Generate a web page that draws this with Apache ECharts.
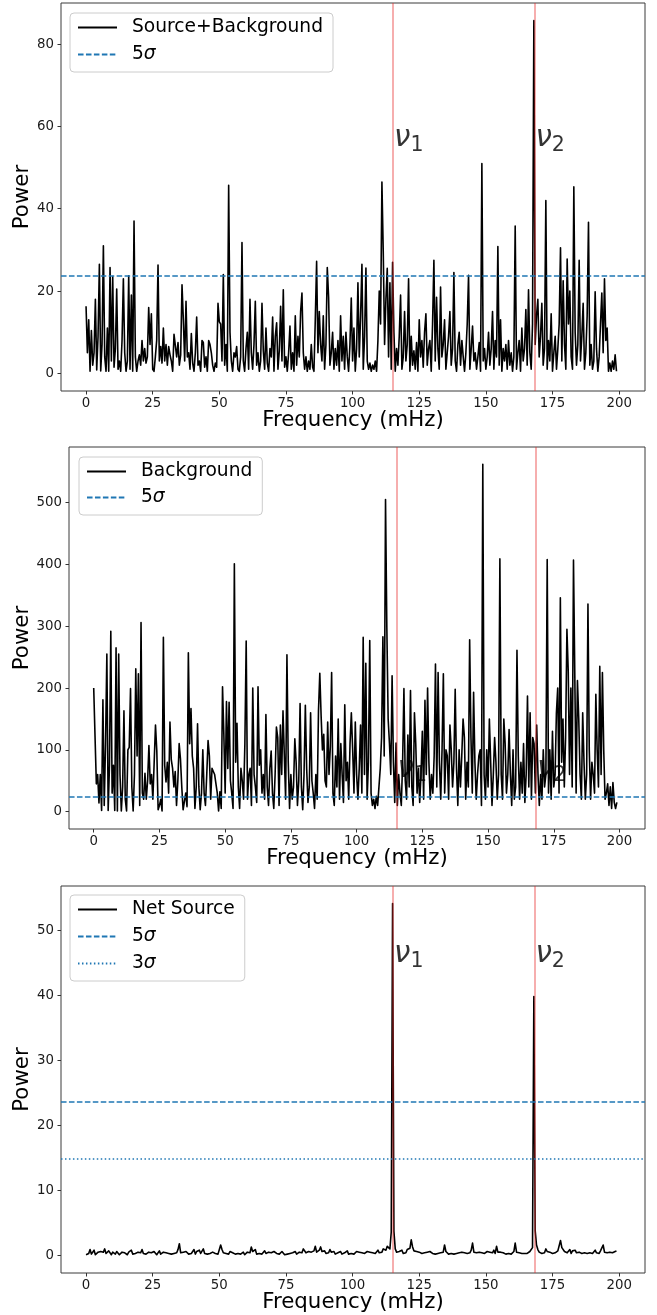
<!DOCTYPE html>
<html>
<head>
<meta charset="utf-8">
<script src="https://cdn.jsdelivr.net/npm/echarts@6/dist/echarts.min.js"></script>
<style>
  html, body { margin: 0; padding: 0; background: #fff; }
  #power-chart { width: 657px; height: 1315px; }
</style>
</head>
<body>
<div id="power-chart"></div>
<script>
// frequency grid of the periodograms (mHz per bin), 0 .. 199 mHz
const freqStep = 0.5;

// Source+Background power, one row = 5 mHz
const srcBkgPower = [
  16.3, 5, 13, 0.5, 10.4, 2, 5, 18, 0.8, 9,
  26.5, 0.6, 7, 31, 4, 0.5, 11, 0.5, 25.7, 3,
  23.5, 1.5, 6, 20.5, 1, 3, 0.5, 8, 23, 5,
  0.5, 3, 23.7, 1, 19, 0.5, 37, 4, 0.5, 3,
  4.5, 2, 8, 3, 6, 2.5, 4, 16, 7, 14.5,
  1, 0.5, 4, 8, 26.3, 3, 6.5, 2.5, 11, 3,
  7, 2, 6.5, 4.5, 3, 0.5, 9.5, 9.7, 4, 7.5,
  2, 4.5, 21.5, 13, 3, 17.5, 4, 5, 1, 9.7,
  2.5, 0.5, 5, 13.7, 2, 3, 0.5, 8, 7.5, 1.5,
  4, 0.5, 8, 7, 5, 2, 0.5, 2.5, 1.5, 17,
  12.5, 12, 3, 24, 2, 7, 0.5, 45.7, 10, 3,
  0.5, 5, 4, 6.5, 1, 0.5, 4, 31.8, 3, 0.5,
  6, 10, 1, 18, 5, 1, 7, 17.5, 2, 5,
  0.5, 3, 17, 5.5, 1, 11, 2.5, 0.5, 6, 4,
  13.7, 0.5, 9, 12.3, 1, 5.5, 16.3, 3, 20.3, 1.5,
  4, 0.5, 5, 11.5, 1, 5, 0.5, 14, 2, 9,
  4, 15, 19.5, 5, 1, 4, 0.5, 3, 1, 7,
  1.5, 0.5, 13, 27.2, 5, 15, 7, 3, 14, 1,
  7, 25.7, 18.5, 2, 5, 10, 1, 6, 2, 8,
  0.5, 14, 3, 9, 1, 10, 4, 0.5, 7, 18.3,
  3, 11, 0.5, 6, 22, 4, 14, 26.5, 1, 9,
  25.6, 3, 1, 2.5, 0.5, 2, 1, 3, 0.5, 8,
  20, 12, 46.5, 29.5, 7, 18, 25.5, 4, 22, 1,
  27, 10, 0.5, 6, 2, 9, 19, 1, 4, 15,
  3, 7, 23, 0.5, 9, 2, 5.5, 1, 7.5, 0.5,
  13, 4, 8, 1.5, 10, 14.5, 2, 6, 8, 0.5,
  12, 27.5, 3, 18.5, 6, 1, 21, 4, 7, 13,
  1, 5, 9, 15, 2, 6, 24.5, 3, 0.5, 7,
  10, 2, 8, 4, 0.5, 5, 12, 23.8, 1, 6,
  11.5, 3, 5, 1, 4, 7.5, 0.5, 51, 3, 6,
  1, 4, 10, 2, 6, 15, 1, 8, 4, 30.8,
  2, 13, 0.5, 6, 3, 7, 1, 8, 2, 5,
  0.5, 4, 35.8, 1, 5, 8, 0.5, 11, 3, 6,
  15.5, 2, 20.3, 5, 1, 12, 85.7, 7, 14, 18,
  4, 9, 17, 2, 6, 42, 1, 8, 3, 14.5,
  0.5, 5, 9, 1, 6, 12, 30.5, 3, 22.5, 7,
  1, 27.8, 12, 20, 4, 1, 45.3, 10, 2, 7,
  27.5, 3, 9, 17, 1, 5, 14, 36.7, 2, 7,
  1, 3, 19.8, 6, 0.5, 4, 12, 19.5, 5, 23,
  8, 11, 0.5, 2.5, 0.5, 3, 1, 4.5, 0.5
];

// Background power
const bkgPower = [
  200, 122, 45, 60, 14, 60, 2, 181, 10, 110,
  255, 2, 75, 292, 30, 75, 2, 265, 1, 255,
  60, 1, 40, 163, 20, 1, 100, 104, 199, 40,
  1, 60, 231, 90, 223, 10, 306, 30, 20, 62,
  20, 50, 107, 45, 60, 20, 80, 140, 98, 3,
  10, 20, 1, 282, 75, 48, 80, 30, 145, 84,
  70, 40, 65, 10, 50, 110, 85, 40, 3, 5,
  30, 8, 257, 110, 167, 90, 70, 5, 40, 142,
  40, 3, 30, 100, 30, 10, 60, 115, 90, 20,
  70, 65, 60, 45, 30, 1, 32, 5, 202, 125,
  30, 178, 70, 177, 50, 30, 5, 401, 80, 143,
  40, 5, 70, 50, 20, 110, 276, 20, 60, 70,
  10, 200, 60, 40, 15, 202, 75, 100, 30, 60,
  20, 157, 40, 10, 70, 98, 30, 5, 60, 137,
  120, 10, 140, 60, 163, 162, 20, 254, 80, 5,
  60, 20, 40, 118, 80, 10, 50, 175, 40, 3,
  60, 172, 70, 15, 40, 160, 50, 30, 5, 60,
  20, 163, 224, 155, 100, 125, 50, 40, 145, 60,
  105, 225, 30, 10, 90, 40, 150, 20, 110, 60,
  15, 173, 50, 80, 20, 110, 160, 100, 30, 145,
  60, 20, 70, 140, 30, 282, 60, 240, 20, 80,
  277, 30, 10, 20, 5, 25, 10, 40, 70, 120,
  283, 90, 505, 297, 150, 110, 60, 220, 80, 15,
  111, 10, 60, 30, 10, 80, 199, 50, 20, 124,
  40, 196, 40, 10, 160, 110, 30, 70, 15, 60,
  130, 20, 180, 60, 200, 80, 20, 60, 30, 90,
  239, 40, 225, 80, 20, 100, 223, 30, 100, 90,
  20, 140, 100, 40, 80, 198, 70, 10, 100, 40,
  90, 150, 120, 20, 80, 40, 278, 120, 30, 193,
  80, 20, 60, 90, 100, 10, 562, 60, 20, 100,
  40, 150, 80, 10, 60, 120, 80, 20, 60, 409,
  60, 20, 150, 110, 30, 60, 133, 60, 10, 100,
  20, 40, 261, 90, 20, 80, 30, 110, 15, 60,
  187, 40, 160, 20, 120, 110, 30, 140, 60, 10,
  60, 20, 100, 40, 60, 408, 30, 100, 20, 130,
  40, 60, 160, 200, 30, 346, 80, 150, 40, 120,
  295, 227, 60, 200, 40, 407, 220, 30, 212, 150,
  60, 20, 160, 80, 20, 60, 336, 100, 20, 80,
  60, 30, 190, 100, 40, 235, 60, 225, 100, 20,
  30, 45, 10, 40, 5, 47, 15, 5, 15
];

// Net Source power
const netSrcPower = [
  0.1, 0.2, 0.3, 0.9, 0.2, 0.4, 0.8, 0.1, 0.3, 0.5,
  0.2, 0.6, 0.3, 0.5, 1.0, 0.3, 0.2, 0.7, 0.4, 0.1,
  0.5, 0.3, 0.2, 0.6, 0.4, 0.1, 0.3, 0.5, 0.2, 0.4,
  0.3, 0.1, 0.5, 0.3, 0.8, 0.2, 0.4, 0.3, 0.1, 0.5,
  0.2, 0.4, 0.9, 0.3, 0.6, 0.2, 0.1, 0.5, 0.3, 0.4,
  0.2, 0.6, 0.3, 0.1, 0.4, 0.7, 0.2, 0.3, 0.5, 0.2,
  0.4, 0.1, 0.3, 0.6, 0.2, 0.5, 0.3, 0.2, 0.4, 0.9,
  1.8, 0.4, 0.2, 0.5, 0.3, 0.6, 0.8, 0.2, 0.4, 0.3,
  0.5, 0.9, 0.2, 0.6, 0.4, 0.8, 0.3, 0.5, 1.0, 0.3,
  0.6, 0.2, 0.4, 0.3, 0.1, 0.5, 0.2, 0.3, 0.4, 0.2,
  0.3, 1.6, 0.9, 0.4, 0.7, 0.3, 0.5, 0.2, 0.6, 0.3,
  0.4, 0.7, 0.2, 0.5, 0.3, 0.6, 0.2, 0.4, 0.5, 0.1,
  0.3, 0.5, 0.2, 0.4, 1.3, 0.6, 0.3, 0.9, 0.2, 0.5,
  0.3, 0.6, 0.2, 0.4, 0.7, 0.3, 0.1, 0.5, 0.3, 0.4,
  0.2, 0.6, 0.9, 0.3, 0.5, 0.2, 0.4, 0.6, 0.3, 0.1,
  0.4, 0.2, 0.5, 0.3, 0.2, 0.4, 0.3, 0.6, 0.2, 0.3,
  0.5, 0.3, 0.4, 1.0, 1.3, 0.4, 0.2, 0.6, 0.3, 0.5,
  0.2, 0.7, 1.4, 0.5, 0.3, 0.8, 1.3, 0.6, 0.4, 0.7,
  0.3, 0.6, 0.4, 0.9, 0.5, 0.3, 0.6, 0.2, 0.5, 0.4,
  0.3, 0.6, 0.2, 0.5, 0.4, 0.3, 0.7, 0.2, 0.4, 0.3,
  0.5, 0.2, 0.4, 0.6, 0.3, 0.5, 0.2, 0.4, 0.7, 0.3,
  0.4, 0.6, 0.3, 0.5, 0.2, 0.4, 0.6, 0.3, 0.5, 0.8,
  0.4, 0.7, 0.5, 1.0, 1.2, 0.8, 1.4, 1.3, 1.0, 3.6,
  54.1, 3.7, 1.0, 0.5, 0.3, 0.6, 0.4, 0.8, 0.3, 0.5,
  0.4, 0.9, 0.6, 1.1, 2.4, 1.3, 0.7, 0.4, 0.6, 0.3,
  0.5, 0.8, 0.3, 0.6, 0.4, 0.2, 0.5, 0.3, 0.6, 0.4,
  0.3, 0.5, 0.2, 0.4, 0.3, 0.6, 0.4, 0.2, 0.5, 1.6,
  0.6, 0.3, 0.2, 0.4, 0.3, 0.5, 0.2, 0.4, 0.3, 0.2,
  0.4, 0.3, 0.5, 0.2, 0.4, 0.6, 0.3, 0.5, 0.4, 0.8,
  1.9, 0.5, 0.3, 0.4, 0.2, 0.5, 0.3, 0.4, 0.2, 0.3,
  0.4, 0.6, 0.3, 0.5, 0.7, 0.4, 0.8, 0.3, 1.4, 0.5,
  0.3, 0.5, 0.2, 0.4, 0.3, 0.2, 0.4, 0.3, 0.5, 0.2,
  0.4, 0.6, 1.9, 0.5, 0.3, 0.4, 0.2, 0.3, 0.4, 0.3,
  0.5, 0.3, 0.4, 0.6, 0.9, 1.2, 39.8, 3.8, 1.6, 0.9,
  0.5, 0.8, 0.3, 0.5, 0.4, 1.0, 0.6, 0.3, 0.5, 0.4,
  0.3, 0.5, 0.4, 0.6, 0.7, 1.0, 2.3, 1.2, 1.5, 0.6,
  0.8, 0.4, 0.6, 0.9, 0.3, 0.7, 0.5, 0.8, 0.4, 0.6,
  0.5, 0.8, 0.3, 0.6, 0.4, 0.7, 0.3, 0.5, 0.4, 0.6,
  0.3, 0.5, 0.8, 0.4, 0.6, 0.3, 0.7, 0.4, 1.6, 0.5,
  0.3, 0.4, 0.2, 0.5, 0.3, 0.4, 0.3, 0.6, 0.7
];

// QPO frequencies (mHz) and their labels
const nuFreqs = [115.2, 168.2];
const nuSubscripts = ['1', '2'];
const nuLabelY = [55, 55, 45];

// significance levels
const sigma5Level = 23.6;
const sigma5LevelBkg = 24.5;
const sigma3Level = 14.9;

// tick labels
const xTicks = [0, 25, 50, 75, 100, 125, 150, 175, 200];
const yTicksTop = [0, 20, 40, 60, 80];
const yTicksMid = [0, 100, 200, 300, 400, 500];
const yTicksBot = [0, 10, 20, 30, 40, 50];

const FONT = 'DejaVu Sans';
const INK = '#000000';
const BLUE = '#1f77b4';
const NU_RED = 'rgba(232, 40, 40, 0.5)';
const DASHED = [5.55, 2.4];
const DOTTED = [1.5, 2.475];
const freqMin = -9.4;
const freqMax = 209.7;

const panels = [
  {
    power: srcBkgPower, label: 'Source+Background',
    grid: { left: 61, top: 3, width: 584, height: 388 },
    yMin: -4.285, yMax: 89.985, yTicks: yTicksTop, yNameGap: 28,
    nuY: nuLabelY[0],
    levels: [['5σ', sigma5Level, DASHED]],
    legend: { left: 70, top: 13, itemGap: 8 }
  },
  {
    power: bkgPower, label: 'Background',
    grid: { left: 69, top: 447, width: 576, height: 382 },
    yMin: -28.1, yMax: 590.1, yTicks: yTicksMid, yNameGap: 36,
    nuY: nuLabelY[1],
    levels: [['5σ', sigma5LevelBkg, DASHED]],
    legend: { left: 79, top: 457, itemGap: 7 }
  },
  {
    power: netSrcPower, label: 'Net Source',
    grid: { left: 61, top: 886, width: 584, height: 387 },
    yMin: -2.705, yMax: 56.8, yTicks: yTicksBot, yNameGap: 28,
    nuY: nuLabelY[2],
    levels: [['5σ', sigma5Level, DASHED], ['3σ', sigma3Level, DOTTED]],
    legend: { left: 70, top: 895, itemGap: 8 }
  }
];

const myChart = echarts.init(document.getElementById('power-chart'));

const grids = [];
const xAxes = [];
const yAxes = [];
const series = [];
const legends = [];

panels.forEach((p, i) => {
  grids.push({
    ...p.grid,
    show: true,
    borderColor: '#3a3a3a',
    borderWidth: 1,
    backgroundColor: 'transparent',
    outerBoundsMode: 'none'
  });

  xAxes.push({
    type: 'value',
    gridIndex: i,
    position: 'bottom',
    min: freqMin,
    max: freqMax,
    name: 'Frequency (mHz)',
    nameLocation: 'middle',
    nameGap: 19,
    nameMoveOverlap: false,
    nameTextStyle: { fontFamily: FONT, fontSize: 21.33, color: INK },
    axisLine: { show: false, onZero: false },
    axisTick: { show: true, customValues: xTicks, length: 3.5, lineStyle: { color: '#333', width: 1 } },
    axisLabel: { customValues: xTicks, fontFamily: FONT, fontSize: 13.33, color: '#1a1a1a', margin: 6 },
    splitLine: { show: false }
  });

  yAxes.push({
    type: 'value',
    gridIndex: i,
    position: 'left',
    min: p.yMin,
    max: p.yMax,
    name: 'Power',
    nameLocation: 'middle',
    nameGap: p.yNameGap,
    nameMoveOverlap: false,
    nameTextStyle: { fontFamily: FONT, fontSize: 21.33, color: INK },
    axisLine: { show: false, onZero: false },
    axisTick: { show: true, customValues: p.yTicks, length: 3.5, lineStyle: { color: '#333', width: 1 } },
    axisLabel: { customValues: p.yTicks, fontFamily: FONT, fontSize: 13.33, color: '#1a1a1a', margin: 7 },
    splitLine: { show: false }
  });

  series.push({
    name: p.label,
    type: 'line',
    xAxisIndex: i,
    yAxisIndex: i,
    data: p.power.map((v, k) => [k * freqStep, v]),
    symbol: 'none',
    color: INK,
    lineStyle: { color: INK, width: 1.6, join: 'round' },
    silent: true,
    z: 3,
    markLine: {
      silent: true,
      symbol: 'none',
      label: { show: false },
      lineStyle: { color: NU_RED, width: 1.5, type: 'solid' },
      data: nuFreqs.map((f) => ({ xAxis: f }))
    }
  });

  p.levels.forEach(([name, level, dash]) => {
    series.push({
      name: name,
      type: 'line',
      xAxisIndex: i,
      yAxisIndex: i,
      data: [],
      symbol: 'none',
      color: BLUE,
      lineStyle: { color: BLUE, width: 1.5, type: dash },
      z: 4,
      markLine: {
        silent: true,
        symbol: 'none',
        label: { show: false },
        lineStyle: { color: BLUE, width: 1.5, type: dash },
        data: [{ yAxis: level }]
      }
    });
  });

  // nu_1 / nu_2 annotations
  series.push({
    type: 'scatter',
    xAxisIndex: i,
    yAxisIndex: i,
    symbolSize: 0,
    silent: true,
    z: 8,
    data: nuFreqs.map((f) => [f, p.nuY]),
    label: {
      show: true,
      position: [0, 0],
      align: 'left',
      verticalAlign: 'bottom',
      offset: [1, 9],
      formatter: (prm) => `{v|ν}{s|${nuSubscripts[prm.dataIndex]}}`,
      rich: {
        v: { fontFamily: FONT, fontSize: 29.33, fontStyle: 'italic', color: INK, verticalAlign: 'bottom', padding: [0, 0, 3, 0] },
        s: { fontFamily: FONT, fontSize: 20.5, color: INK, verticalAlign: 'bottom' }
      }
    }
  });

  legends.push({
    orient: 'vertical',
    left: p.legend.left,
    top: p.legend.top,
    itemGap: p.legend.itemGap,
    data: [p.label].concat(p.levels.map((l) => l[0])),
    selectedMode: false,
    itemWidth: 39,
    itemHeight: 14,
    padding: [5, 10, 8, 7],
    backgroundColor: 'rgba(255,255,255,0.8)',
    borderColor: '#cccccc',
    borderWidth: 1,
    borderRadius: 4,
    itemStyle: { opacity: 0 },
    formatter: (name) => name.replace('σ', '{i|σ}'),
    textStyle: {
      fontFamily: FONT,
      fontSize: 18.67,
      color: INK,
      padding: [0, 0, 0, 10],
      rich: { i: { fontFamily: FONT, fontSize: 18.67, fontStyle: 'italic', color: INK } }
    }
  });
});

myChart.setOption({
  animation: false,
  backgroundColor: '#ffffff',
  grid: grids,
  xAxis: xAxes,
  yAxis: yAxes,
  legend: legends,
  series: series
});

window.addEventListener('resize', () => myChart.resize());
</script>
</body>
</html>
